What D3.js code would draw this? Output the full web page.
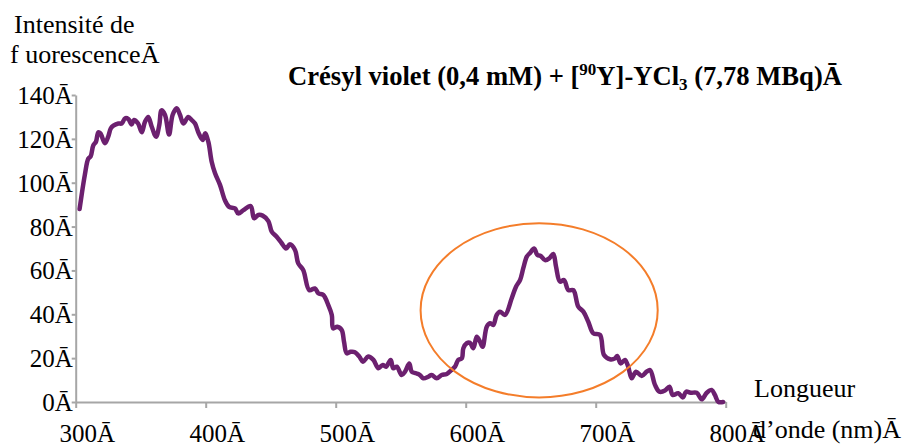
<!DOCTYPE html>
<html>
<head>
<meta charset="utf-8">
<script src="https://cdn.jsdelivr.net/npm/d3@7"></script>
<style>
html,body{margin:0;padding:0;background:#fff;}
svg text{font-family:"Liberation Serif","Times New Roman",serif;fill:#000;}
</style>
</head>
<body>
<svg id="chart" width="909" height="444"></svg>
<script>
const wavelengths = [303,307,309.7,311.5,313.5,315.6,317.4,319,322.5,325,327,329,332.8,335.4,338,340.5,343,344.8,348,350.8,353.3,355.8,358.5,361.8,364.3,366,368.7,371.8,374.6,377.7,380.2,382.8,386.6,389.2,391.8,394.3,397.7,399.5,402,404.6,407.2,411,414.8,418,422.5,425,429,434.6,437.2,440.5,443.8,448.2,450.8,454.6,458.5,461.8,464.8,468.7,471.2,475,479.7,484,486.6,490.5,494.3,497,498,501.2,504.6,506.4,508.5,511.5,514.8,518.2,521,525,529,532.8,536.2,538.7,542.3,544.3,547,550.8,553.3,556.6,558.5,561.8,564.8,567.4,571.2,573.8,577.7,581.5,585.4,588.5,591.8,594.3,597,598.2,600.8,603.3,605.9,608.5,611,613,616.2,618.7,621.2,623.8,626.4,630.2,635.4,638.7,641.8,644.3,647,649.5,652.6,655.2,657.7,661,664.3,667.4,669.5,672.5,675.6,679,682.8,686.6,690.5,694.3,698.2,703.3,706.4,711,714.9,716.6,719.2,722.5,725,727.7,731,735.4,739.2,741.8,745.6,749,753.3,756.7,759.2,763.5,767,769.5,773,777.7,781.5,785.4,789.2,791.7,794.3,798];
const intensities = [88,103.5,111,112,117,118.7,123,122.5,118,121,124.8,126,127,127,129.4,129,126.6,128.6,127,123,127.8,130,125.5,121,126.3,133,130.9,122,131,134,131,127,130,128.6,127,123,119.5,122.5,118.7,109.6,104.3,99,92,89,88.3,86,87.5,89.4,83.8,85.3,85,82.5,77.7,75.4,72.4,70,71.9,69.3,63.2,60.2,51,51.8,49.6,48.8,44.2,39.7,33.6,34.3,32.8,27.5,22.2,22.9,22.7,20.7,18.4,20.7,19.2,15.4,16.9,16.1,19.2,15.4,16.1,12.3,13.8,17.6,13.8,13.1,12.3,10.8,11.5,12.3,10.8,12.3,12.8,14.3,16.1,19.2,19.9,24.5,26.8,27,24.5,29.8,27.5,25.2,34.3,35.9,35.1,39.7,41.2,39.7,47.3,52.6,55.6,61,66.3,68,70,67,66.6,64.7,65.5,67.5,61.7,54.9,55.6,51,51,43.5,41.2,36.6,31.3,30.6,21.4,19.5,19.9,21,17.6,19.2,16.1,10.8,13.8,11.9,13.8,14.6,7.8,4.7,5.2,7,3.2,4,2.1,4.7,4.2,4.2,1.2,4.2,5.5,3.2,0.1,0];
const xTicks = [300,400,500,600,700,800];
const yTicks = [0,20,40,60,80,100,120,140];
const tickSuffix = "Ā";
// highlight ellipse in data units: [centre nm, centre intensity, radius nm, radius intensity]
const highlight = [656.5, 41.8, 91.2, 39.7];

const serif = "'Liberation Serif','Times New Roman',serif";
const svg = d3.select("#chart");
const x = d3.scaleLinear().domain([300,800]).range([75.7,725.7]);
const y = d3.scaleLinear().domain([0,140]).range([402,95]);
const axisColor = "#a6a6a6";

// x axis
const xAxis = svg.append("g").attr("transform","translate(0,402)")
  .call(d3.axisBottom(x).tickValues(xTicks).tickSize(6).tickSizeOuter(0).tickFormat(d=>d+tickSuffix));
xAxis.attr("font-family",serif);
xAxis.select(".domain").attr("stroke",axisColor).attr("stroke-width",2);
xAxis.selectAll(".tick line").attr("stroke",axisColor).attr("stroke-width",2);
xAxis.selectAll(".tick text").attr("font-size",25).style("font-family",serif).attr("fill","#000")
  .attr("y",null).attr("dy",null).attr("transform","translate(11,39.5)");

// y axis
const yAxis = svg.append("g").attr("transform","translate(75.7,0)")
  .call(d3.axisLeft(y).tickValues(yTicks).tickSize(4).tickSizeOuter(0).tickFormat(d=>d+tickSuffix));
yAxis.attr("font-family",serif);
yAxis.select(".domain").attr("stroke",axisColor).attr("stroke-width",2);
yAxis.selectAll(".tick line").attr("stroke",axisColor).attr("stroke-width",2);
yAxis.selectAll(".tick text").attr("font-size",25).style("font-family",serif).attr("fill","#000")
  .attr("x",-3).attr("dy","0.34em");

// data line
const pts = wavelengths.map((w,i)=>[w,intensities[i]]);
const line = d3.line().x(d=>x(d[0])).y(d=>y(d[1])).curve(d3.curveCatmullRom.alpha(0.5));
svg.append("path").datum(pts).attr("d",line).attr("fill","none")
  .attr("stroke","#6c206f").attr("stroke-width",4.5).attr("stroke-linejoin","round").attr("stroke-linecap","round");

// highlight ellipse
svg.append("ellipse")
  .attr("cx",x(highlight[0])).attr("cy",y(highlight[1]))
  .attr("rx",x(highlight[0]+highlight[2])-x(highlight[0]))
  .attr("ry",y(highlight[1]-highlight[3])-y(highlight[1]))
  .attr("fill","none").attr("stroke","#f47d2a").attr("stroke-width",2);

// y axis title
const yt = svg.append("text").attr("font-size",26).style("font-family",serif);
yt.append("tspan").attr("x",14).attr("y",33).text("Intensité de");
yt.append("tspan").attr("x",10).attr("y",63).text("f uorescenceĀ");

// x axis title
const xt = svg.append("text").attr("font-size",26).style("font-family",serif);
xt.append("tspan").attr("x",754).attr("y",397).text("Longueur");
xt.append("tspan").attr("x",753).attr("y",438).text("d’onde (nm)Ā");

// chart title
const t = svg.append("text").attr("x",288).attr("y",85).attr("font-size",26.6).attr("font-weight","bold").style("font-family",serif);
t.append("tspan").text("Crésyl violet (0,4 mM) + [");
t.append("tspan").attr("dy",-10).attr("font-size",17).text("90");
t.append("tspan").attr("dy",10).text("Y]-YCl");
t.append("tspan").attr("dy",5).attr("font-size",17).text("3");
t.append("tspan").attr("dy",-5).text(" (7,78 MBq)Ā");
</script>
</body>
</html>
